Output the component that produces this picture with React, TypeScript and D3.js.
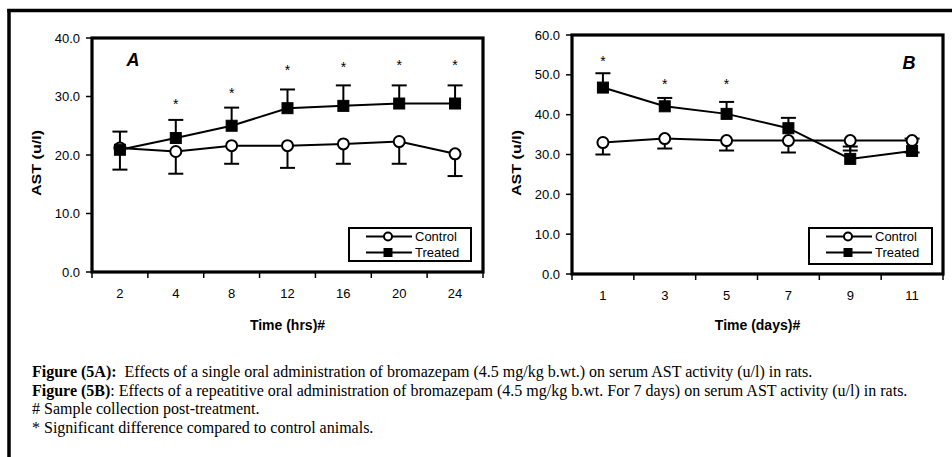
import React from "react";
import * as d3 from "d3";

// ---------- Data ----------
const hoursA = ["2", "4", "8", "12", "16", "20", "24"];
const controlA = [21.2, 20.6, 21.6, 21.6, 21.9, 22.3, 20.2];
const controlLowA = [17.5, 16.8, 18.5, 17.8, 18.5, 18.5, 16.4];
const treatedA = [20.9, 22.9, 25.0, 28.0, 28.4, 28.8, 28.8];
const treatedHighA = [24.0, 26.0, 28.1, 31.2, 31.9, 31.9, 31.9];
const starsA: (number | null)[] = [null, 29.1, 31.0, 34.9, 35.4, 35.7, 35.7];
const yTicksA = [0, 10, 20, 30, 40];

const daysB = ["1", "3", "5", "7", "9", "11"];
const controlB = [33.0, 34.0, 33.5, 33.5, 33.5, 33.5];
const controlLowB = [30.0, 31.5, 31.0, 30.5, 31.0, 30.5];
const treatedB = [46.8, 42.1, 40.2, 36.6, 28.9, 30.9];
const treatedHighB = [50.4, 44.2, 43.2, 39.2, 32.0, 34.0];
const starsB: (number | null)[] = [54.0, 48.3, 48.3, null, null, null];
const yTicksB = [0, 10, 20, 30, 40, 50, 60];

const seriesNames = ["Control", "Treated"];
const yTitle = "AST (u/l)";

const captionLines: [string, string][] = [
  ["Figure (5A):", "  Effects of a single oral administration of bromazepam (4.5 mg/kg b.wt.) on serum AST activity (u/l) in rats."],
  ["Figure (5B)", ": Effects of a repeatitive oral administration of bromazepam (4.5 mg/kg b.wt. For 7 days) on serum AST activity (u/l) in rats."],
  ["", "# Sample collection post-treatment."],
  ["", "* Significant difference compared to control animals."],
];

const SANS = "'Liberation Sans', Arial, Helvetica, sans-serif";
const SERIF = "'Liberation Serif', 'Times New Roman', serif";

type PanelProps = {
  cats: string[];
  control: number[];
  controlLow: number[];
  treated: number[];
  treatedHigh: number[];
  stars: (number | null)[];
  yTicks: number[];
  yMax: number;
  box: { l: number; t: number; r: number; b: number };
  letter: string;
  letterPos: [number, number];
  xTitle: string;
  legendBox: { l: number; t: number; r: number; b: number };
  yTitleX: number;
};

function Panel(p: PanelProps) {
  const x = d3.scaleBand<string>().domain(p.cats).range([p.box.l, p.box.r]).padding(0);
  const y = d3.scaleLinear().domain([0, p.yMax]).range([p.box.b, p.box.t]);
  const cx = (i: number) => (x(p.cats[i]) as number) + x.bandwidth() / 2;
  const line = d3
    .line<number>()
    .x((_, i) => cx(i))
    .y((d) => y(d));
  const capW = 7.5;
  const sq = 11;
  const bounds = d3.range(p.cats.length + 1).map((i) => p.box.l + i * x.step());
  const lg = p.legendBox;
  const lgRow = [lg.t + 8.5, lg.t + 24.5];
  const lgLine = [lg.l + 17, lg.l + 63];
  const lgMark = lg.l + 39;

  return (
    <g>
      {/* y axis ticks and labels */}
      {p.yTicks.map((t) => (
        <g key={"yt" + t}>
          <line x1={p.box.l - 6} x2={p.box.l} y1={y(t)} y2={y(t)} stroke="#000" strokeWidth={1.5} />
          <text
            x={p.box.l - 12}
            y={y(t)}
            dy="0.35em"
            textAnchor="end"
            fontFamily={SANS}
            fontSize={13}
            fill="#000"
          >
            {t.toFixed(1)}
          </text>
        </g>
      ))}
      {/* x axis ticks */}
      {bounds.map((bx, i) => (
        <line key={"xt" + i} x1={bx} x2={bx} y1={p.box.b} y2={p.box.b + 6} stroke="#000" strokeWidth={1.5} />
      ))}
      {p.cats.map((c, i) => (
        <text
          key={"xl" + c}
          x={cx(i)}
          y={p.box.b + 21}
          dy="0.35em"
          textAnchor="middle"
          fontFamily={SANS}
          fontSize={13}
          fill="#000"
        >
          {c}
        </text>
      ))}
      {/* frame */}
      <rect
        x={p.box.l}
        y={p.box.t}
        width={p.box.r - p.box.l}
        height={p.box.b - p.box.t}
        fill="none"
        stroke="#000"
        strokeWidth={3.2}
      />
      {/* y title */}
      <text
        transform={`translate(${p.yTitleX},163) rotate(-90)`}
        textAnchor="middle"
        dy="0.35em"
        fontFamily={SANS}
        fontWeight="bold"
        fontSize={13}
        textLength={66}
        lengthAdjust="spacingAndGlyphs"
        fill="#000"
      >
        {yTitle}
      </text>
      {/* x title */}
      <text
        x={(p.box.l + p.box.r) / 2}
        y={325}
        dy="0.35em"
        textAnchor="middle"
        fontFamily={SANS}
        fontWeight="bold"
        fontSize={14}
        fill="#000"
      >
        {p.xTitle}
      </text>
      {/* letter */}
      <text
        x={p.letterPos[0]}
        y={p.letterPos[1]}
        dy="0.35em"
        textAnchor="middle"
        fontFamily={SANS}
        fontWeight="bold"
        fontStyle="italic"
        fontSize={18}
        fill="#000"
      >
        {p.letter}
      </text>
      {/* error bars */}
      {p.control.map((v, i) => (
        <g key={"ec" + i}>
          <line x1={cx(i)} x2={cx(i)} y1={y(v)} y2={y(p.controlLow[i])} stroke="#000" strokeWidth={2} />
          <line
            x1={cx(i) - capW}
            x2={cx(i) + capW}
            y1={y(p.controlLow[i])}
            y2={y(p.controlLow[i])}
            stroke="#000"
            strokeWidth={2}
          />
        </g>
      ))}
      {p.treated.map((v, i) => (
        <g key={"et" + i}>
          <line x1={cx(i)} x2={cx(i)} y1={y(v)} y2={y(p.treatedHigh[i])} stroke="#000" strokeWidth={2} />
          <line
            x1={cx(i) - capW}
            x2={cx(i) + capW}
            y1={y(p.treatedHigh[i])}
            y2={y(p.treatedHigh[i])}
            stroke="#000"
            strokeWidth={2}
          />
        </g>
      ))}
      {/* lines */}
      <path d={line(p.control) || ""} fill="none" stroke="#000" strokeWidth={2} />
      <path d={line(p.treated) || ""} fill="none" stroke="#000" strokeWidth={2} />
      {/* markers */}
      {p.control.map((v, i) => (
        <circle key={"mc" + i} cx={cx(i)} cy={y(v)} r={5.5} fill="#fff" stroke="#000" strokeWidth={2} />
      ))}
      {p.treated.map((v, i) => (
        <rect key={"mt" + i} x={cx(i) - sq / 2} y={y(v) - sq / 2} width={sq} height={sq} fill="#000" stroke="#000" strokeWidth={1} />
      ))}
      {/* significance stars */}
      {p.stars.map((s, i) =>
        s == null ? null : (
          <text
            key={"st" + i}
            x={cx(i)}
            y={y(s) + 7}
            textAnchor="middle"
            fontFamily={SANS}
            fontSize={14}
            fill="#000"
          >
            *
          </text>
        )
      )}
      {/* legend */}
      <rect x={lg.l} y={lg.t} width={lg.r - lg.l} height={lg.b - lg.t} fill="#fff" stroke="#000" strokeWidth={2} />
      {seriesNames.map((n, k) => (
        <g key={"lg" + n}>
          <line x1={lgLine[0]} x2={lgLine[1]} y1={lgRow[k]} y2={lgRow[k]} stroke="#000" strokeWidth={2} />
          {k === 0 ? (
            <circle cx={lgMark} cy={lgRow[k]} r={4} fill="#fff" stroke="#000" strokeWidth={2} />
          ) : (
            <rect x={lgMark - 4.5} y={lgRow[k] - 4.5} width={9} height={9} fill="#000" />
          )}
          <text x={lgLine[1] + 3} y={lgRow[k]} dy="0.35em" fontFamily={SANS} fontSize={13} fill="#000">
            {n}
          </text>
        </g>
      ))}
    </g>
  );
}

export default function App() {
  return (
    <svg
      width={952}
      height={457}
      viewBox="0 0 952 457"
      style={{ position: "absolute", left: 0, top: 0, background: "#fff" }}
    >
      <rect x={0} y={0} width={952} height={457} fill="#fff" />
      {/* outer figure frame */}
      <line x1={9} x2={9} y1={9} y2={457} stroke="#000" strokeWidth={3.5} />
      <line x1={7.3} x2={952} y1={10.5} y2={10.5} stroke="#000" strokeWidth={3.5} />

      <Panel
        cats={hoursA}
        control={controlA}
        controlLow={controlLowA}
        treated={treatedA}
        treatedHigh={treatedHighA}
        stars={starsA}
        yTicks={yTicksA}
        yMax={40}
        box={{ l: 92, t: 38, r: 483, b: 272 }}
        letter="A"
        letterPos={[133, 60]}
        xTitle="Time (hrs)#"
        legendBox={{ l: 349, t: 228, r: 471, b: 261 }}
        yTitleX={36}
      />
      <Panel
        cats={daysB}
        control={controlB}
        controlLow={controlLowB}
        treated={treatedB}
        treatedHigh={treatedHighB}
        stars={starsB}
        yTicks={yTicksB}
        yMax={60}
        box={{ l: 572, t: 35, r: 943, b: 274 }}
        letter="B"
        letterPos={[909, 63]}
        xTitle="Time (days)#"
        legendBox={{ l: 809, t: 228, r: 932, b: 264 }}
        yTitleX={516}
      />

      {/* caption */}
      {captionLines.map(([bold, rest], i) => (
        <text key={"cap" + i} x={32} y={377 + i * 18.7} fontFamily={SERIF} fontSize={16} fill="#000" xmlSpace="preserve">
          {bold ? <tspan fontWeight="bold">{bold}</tspan> : null}
          <tspan>{rest}</tspan>
        </text>
      ))}
    </svg>
  );
}
